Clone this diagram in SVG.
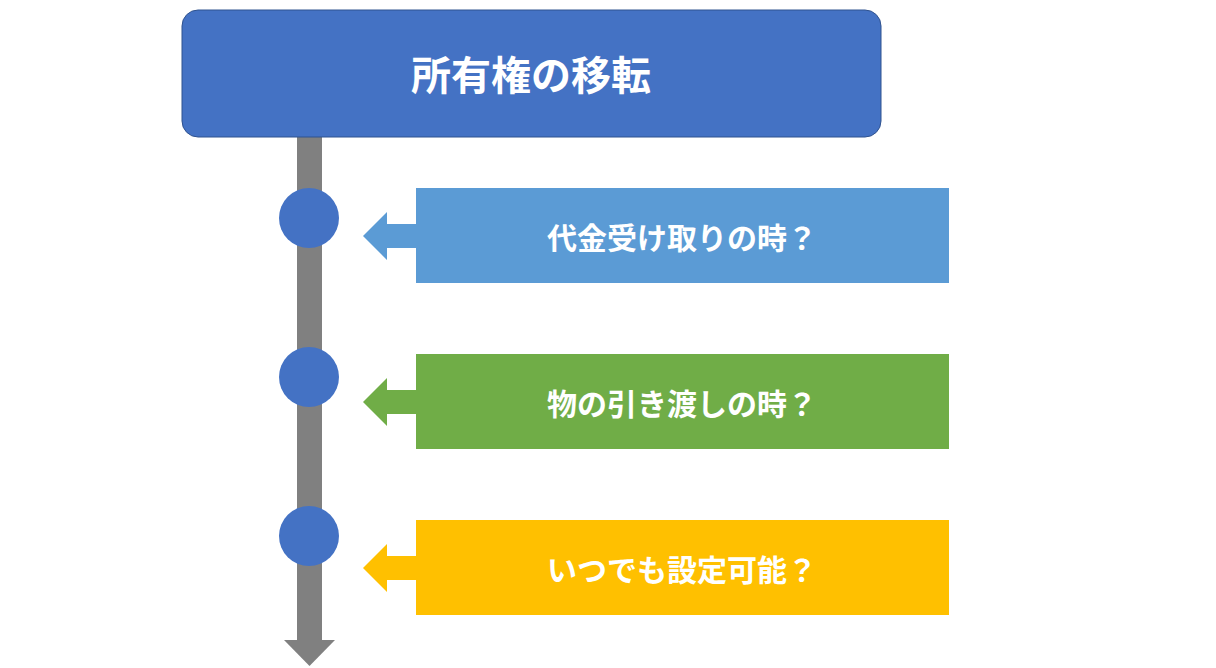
<svg xmlns="http://www.w3.org/2000/svg" width="1216" height="668" viewBox="0 0 1216 668">
<style>
text{font-family:"Noto Sans CJK JP","Noto Sans CJK SC",sans-serif;font-weight:bold;fill:#fff;text-anchor:middle;dominant-baseline:central}
.t{font-size:40px}.l{font-size:30px}
.dot{fill:#4472C4}
</style>
<rect width="1216" height="668" fill="#fff"/>
<g id="connectors">
<rect x="297" y="137" width="25" height="505" fill="#808080"/>
<polygon points="284,640 335,640 309.5,666" fill="#808080"/>
</g>
<g id="title"><rect x="182" y="10" width="699" height="127" rx="16" fill="#4472C4" stroke="#2F528F" stroke-width="1"/><text class="t" x="531" y="73">所有権の移転</text></g>
<g id="dot1"><circle class="dot" cx="309" cy="218" r="30"/></g>
<g id="dot2"><circle class="dot" cx="309" cy="377" r="30"/></g>
<g id="dot3"><circle class="dot" cx="309" cy="536" r="30"/></g>
<g id="item1" fill="#5B9BD5"><rect x="416" y="188" width="533" height="95"/><polygon points="363,236 387,212 387,224 416,224 416,248 387,248 387,260"/><text class="l" x="682" y="236">代金受け取りの時？</text></g>
<g id="item2" fill="#70AD47"><rect x="416" y="354" width="533" height="95"/><polygon points="363,402 387,378 387,390 416,390 416,414 387,414 387,426"/><text class="l" x="682" y="402">物の引き渡しの時？</text></g>
<g id="item3" fill="#FFC000"><rect x="416" y="520" width="533" height="95"/><polygon points="363,568 387,544 387,556 416,556 416,580 387,580 387,592"/><text class="l" x="682" y="568">いつでも設定可能？</text></g>
</svg>
